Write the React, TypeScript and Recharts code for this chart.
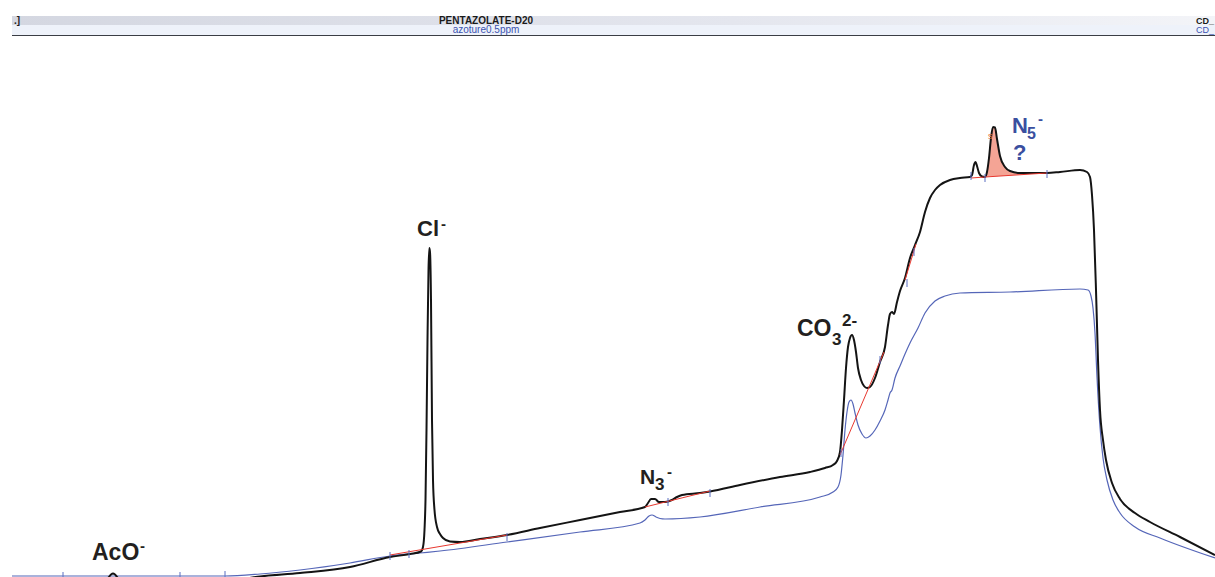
import React from 'react';
import { ComposedChart, Line, Area, Scatter, XAxis, YAxis } from 'recharts';

// conductivity trace of the sample (time, signal)
const pentazolateTrace: [number, number][] = [
  [0, -4], [100, -4], [108, -1], [111, 2.5], [113, 3.5], [115, 2.5], [118, -1], [125, -4],
  [200, -4], [240, -2], [260, 0.5], [300, 4], [350, 10], [390, 20], [410, 23], [421, 25.5],
  [423, 30], [424.5, 47], [425.5, 77], [426.5, 147], [427.5, 237], [428.5, 307], [429.3, 329],
  [430, 325], [431, 277], [432, 157], [433, 97], [434.5, 67], [437, 50], [440, 43], [443, 39],
  [450, 35.5], [460, 35], [480, 38], [507, 42], [540, 49], [580, 57], [620, 65], [645, 70],
  [648, 74], [651, 78], [655, 78], [659, 75], [665, 75], [672, 77], [677, 80], [682, 82],
  [700, 84], [710, 85.5], [740, 92], [780, 100], [810, 105], [825, 109], [833, 112], [837, 116],
  [840, 125], [842, 147], [844, 177], [846, 209], [848, 230], [850, 239], [852, 242], [854, 237],
  [856, 225], [858, 209], [861, 197], [864, 191], [867, 189], [870, 190], [875, 199], [880, 215],
  [885, 230], [888, 252], [890, 263], [892, 265], [894, 263], [897, 275], [900, 286], [905, 299],
  [910, 319], [915, 332], [920, 345], [925, 365], [930, 379], [935, 387], [940, 392], [950, 397],
  [960, 399], [970, 400], [972, 402], [974, 412], [975.5, 415], [977, 411], [979, 404],
  [982, 400.5], [985, 400], [987, 405], [989, 419], [991, 439], [993, 450], [995, 449.5],
  [997, 438], [1000, 421], [1005, 410], [1010, 406], [1020, 404], [1047, 404], [1060, 405],
  [1080, 407], [1087, 405], [1090, 400], [1092, 382], [1094, 347], [1096, 287], [1098, 217],
  [1100, 167], [1103, 137], [1106, 117], [1112, 94], [1120, 78], [1135, 64], [1150, 55],
  [1180, 40], [1215, 22],
];

// reference trace: azoture 0.5 ppm
const azotureTrace: [number, number][] = [
  [12, 1], [225, 1], [260, 3], [300, 7], [350, 14], [390, 21], [420, 24], [440, 26], [507, 35],
  [580, 45], [640, 54], [645, 57], [649, 61], [652, 62], [656, 60], [660, 58.5], [665, 58],
  [700, 60], [760, 70], [820, 80], [833, 85], [838, 90], [841, 102], [843, 122], [845, 147],
  [847, 165], [849, 175], [851, 177], [853, 173], [855, 164], [858, 152], [862, 143], [866, 139],
  [870, 141], [875, 147], [880, 156], [885, 167], [888, 177], [890, 184], [892, 187], [895, 199],
  [900, 211], [905, 223], [910, 234], [918, 249], [925, 264], [935, 276], [945, 281], [960, 284],
  [1010, 285], [1080, 288], [1088, 287], [1091, 281], [1093, 269], [1095, 244], [1097, 200],
  [1100, 150], [1103, 119], [1107, 97], [1113, 77], [1120, 64], [1135, 50], [1160, 39], [1215, 19],
];

// integration baselines: [t0, s0, t1, s1]
const baselines: [number, number, number, number][] = [
  [390, 22, 507, 42],
  [645, 70, 710, 86],
  [840, 122, 884, 225],
  [905, 297, 916, 333],
  [971, 399, 985, 400],
  [985, 400, 1047, 404],
];

// peak start / end markers
const integrationMarks: [number, number][] = [
  [63, 1], [180, 1], [225, 2], [390, 21], [409, 23], [507, 40], [668, 75], [710, 84],
  [841, 124], [880, 217], [907, 294], [914, 325], [971, 401], [985, 399], [1047, 403],
];

const N5_BASELINE = baselines[5];

const toPoints = (arr: [number, number][]) => arr.map(([t, s]) => ({ t, s }));

const n5Area = pentazolateTrace
  .filter(([t]) => t >= N5_BASELINE[0] && t <= N5_BASELINE[2])
  .map(([t, s]) => {
    const [t0, s0, t1, s1] = N5_BASELINE;
    const base = s0 + ((s1 - s0) * (t - t0)) / (t1 - t0);
    return { t, range: [base, s] };
  });

const TickMark = (props: any) => (
  <line x1={props.cx} x2={props.cx} y1={props.cy - 4} y2={props.cy + 4} stroke="#5b6fc2" strokeWidth={1} />
);

const font = "'Liberation Sans', Arial, sans-serif";

export default function App() {
  return (
    <div style={{ position: 'absolute', left: 0, top: 0, width: 1215, height: 577, background: '#fff', overflow: 'hidden', fontFamily: font }}>
      {/* header strip */}
      <div style={{ position: 'absolute', left: 12, top: 16, width: 1203, height: 9, background: 'linear-gradient(to right, #d4d7e1, #e4e6ee 60%, #f3f4f8)' }} />
      <div style={{ position: 'absolute', left: 12, top: 25, width: 1203, height: 10, background: '#eef2fa' }} />
      <div style={{ position: 'absolute', left: 12, top: 34.5, width: 1203, height: 1.5, background: '#3a3d45' }} />
      <svg width={1215} height={40} style={{ position: 'absolute', left: 0, top: 0 }} fontFamily={font} fontSize={10}>
        <text x={14} y={24} fontWeight="bold" fill="#222">.]</text>
        <text x={486} y={24} textAnchor="middle" fontWeight="bold" fill="#1a1a1a">PENTAZOLATE-D20</text>
        <text x={486} y={33} textAnchor="middle" fill="#3b52b0">azoture0.5ppm</text>
        <text x={1214} y={24} textAnchor="end" fontSize={9} fontWeight="bold" fill="#1a1a1a">CD_</text>
        <text x={1214} y={33} textAnchor="end" fontSize={9} fill="#3b52b0">CD_</text>
      </svg>

      <ComposedChart width={1215} height={577} margin={{ top: 0, right: 0, bottom: 0, left: 0 }} style={{ position: 'absolute', left: 0, top: 0 }}>
        <XAxis dataKey="t" type="number" domain={[0, 1215]} allowDataOverflow hide />
        <YAxis type="number" domain={[0, 577]} allowDataOverflow hide />
        <Area
          data={n5Area}
          dataKey="range"
          type="monotone"
          fill="#f39a8a"
          fillOpacity={0.9}
          stroke="none"
          isAnimationActive={false}
        />
        <Line data={toPoints(azotureTrace)} dataKey="s" type="monotone" stroke="#5566b8" strokeWidth={1.2} dot={false} activeDot={false} isAnimationActive={false} />
        <Line data={toPoints(pentazolateTrace)} dataKey="s" type="monotone" stroke="#141414" strokeWidth={2} dot={false} activeDot={false} isAnimationActive={false} />
        {baselines.map(([t0, s0, t1, s1], i) => (
          <Line
            key={i}
            data={[{ t: t0, s: s0 }, { t: t1, s: s1 }]}
            dataKey="s"
            type="linear"
            stroke="#e8382f"
            strokeWidth={1}
            dot={false}
            activeDot={false}
            isAnimationActive={false}
          />
        ))}
        <Scatter data={toPoints(integrationMarks)} dataKey="s" shape={TickMark} isAnimationActive={false} />
      </ComposedChart>

      {/* peak labels */}
      <svg width={1215} height={577} style={{ position: 'absolute', left: 0, top: 0, pointerEvents: 'none' }} fontFamily={font} fontWeight="bold">
        <text x={92} y={560} fontSize={23} fill="#231f20">AcO</text>
        <text x={140} y={551} fontSize={15} fill="#231f20">-</text>

        <text x={417} y={236} fontSize={22} fill="#231f20">Cl</text>
        <text x={441} y={229} fontSize={15} fill="#231f20">-</text>

        <text x={640} y={484} fontSize={21} fill="#231f20">N</text>
        <text x={655} y={490} fontSize={17} fill="#231f20">3</text>
        <text x={667} y={477} fontSize={15} fill="#231f20">-</text>

        <text x={797} y={336} fontSize={23} fill="#231f20">CO</text>
        <text x={832} y={345} fontSize={17} fill="#231f20">3</text>
        <text x={842} y={326} fontSize={17} fill="#231f20">2-</text>

        <text x={1012} y={133} fontSize={22} fill="#3a4f9f">N</text>
        <text x={1027} y={139} fontSize={16} fill="#3a4f9f">5</text>
        <text x={1038} y={124} fontSize={15} fill="#3a4f9f">-</text>
        <text x={1013} y={160} fontSize={22} fill="#3a4f9f">?</text>
        <text x={988} y={139} fontSize={9} fill="#e8703a" fontWeight="normal">s</text>
      </svg>
    </div>
  );
}
